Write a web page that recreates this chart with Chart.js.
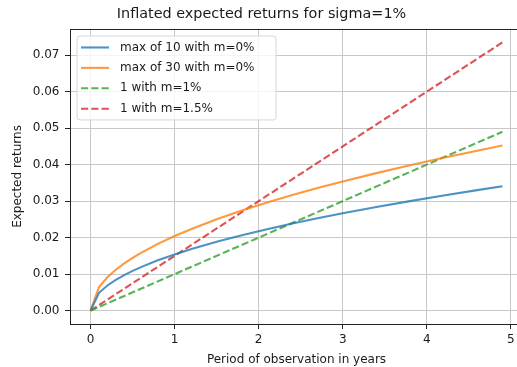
<!DOCTYPE html>
<html lang="en">
<head>
<meta charset="UTF-8">
<title>Inflated expected returns for sigma=1%</title>
<script src="https://cdn.jsdelivr.net/npm/chart.js"></script>
<style>
    html, body {
        margin: 0;
        padding: 0;
        overflow: hidden;
        background: #fff;
    }
</style>
</head>
<body>
<canvas id="chart" width="530" height="367"></canvas>
<script>
    // values
    const years = [0, 0.1, 0.2, 0.3, 0.4, 0.5, 0.6, 0.8, 1.0, 1.2, 1.5, 1.8, 2.1, 2.4, 2.7, 3.0, 3.4, 3.8, 4.2, 4.6, 4.9];
    const maxOf10 = [0, 0.00487, 0.00688, 0.00843, 0.00973, 0.01088, 0.01192, 0.01377, 0.01539, 0.01686, 0.01885,
        0.02065, 0.02230, 0.02384, 0.02529, 0.02666, 0.02838, 0.03000, 0.03154, 0.03301, 0.03407];
    const maxOf30 = [0, 0.00646, 0.00914, 0.01119, 0.01292, 0.01445, 0.01583, 0.01827, 0.02043, 0.02238, 0.02502,
        0.02741, 0.02961, 0.03165, 0.03357, 0.03539, 0.03767, 0.03983, 0.04187, 0.04382, 0.04522];
    const lineYears = [0, 4.9];
    const m1 = [0, 0.049];
    const m15 = [0, 0.0735];

    const seriesLabels = ['max of 10 with m=0%', 'max of 30 with m=0%', '1 with m=1%', '1 with m=1.5%'];
    const xTicks = [0, 1, 2, 3, 4, 5];
    const yTicks = [0, 0.01, 0.02, 0.03, 0.04, 0.05, 0.06, 0.07];

    const pts = (xs, ys) => xs.map((x, i) => ({x: x, y: ys[i]}));
    const FONT = 'DejaVu Sans';

    // matplotlib-like legend in the upper left corner
    const innerLegend = {
        id: 'innerLegend',
        afterDraw(chart) {
            const ctx = chart.ctx;
            const a = chart.chartArea;
            const x0 = a.left + 7, y0 = a.top + 7, w = 199, h = 84;
            ctx.save();
            ctx.beginPath();
            ctx.roundRect(x0, y0, w, h, 3);
            ctx.fillStyle = 'rgba(255,255,255,0.8)';
            ctx.fill();
            ctx.strokeStyle = '#d6d6d6';
            ctx.lineWidth = 1;
            ctx.stroke();
            ctx.font = '12px "' + FONT + '"';
            ctx.textBaseline = 'middle';
            chart.data.datasets.forEach((ds, i) => {
                const cy = y0 + 11.5 + i * 20.4;
                ctx.beginPath();
                ctx.setLineDash(ds.borderDash || []);
                ctx.strokeStyle = ds.borderColor;
                ctx.lineWidth = ds.borderWidth;
                ctx.moveTo(x0 + 4, cy);
                ctx.lineTo(x0 + 32, cy);
                ctx.stroke();
                ctx.setLineDash([]);
                ctx.fillStyle = '#1a1a1a';
                ctx.fillText(ds.label, x0 + 43, cy);
            });
            // frame
            ctx.strokeStyle = '#222';
            ctx.lineWidth = 1;
            ctx.strokeRect(Math.round(a.left) + 0.5, Math.round(a.top) + 0.5,
                Math.round(a.right - a.left), Math.round(a.bottom - a.top));
            ctx.restore();
        }
    };

    const dash = [7.2, 3.1];
    new Chart(document.getElementById('chart'), {
        type: 'line',
        data: {
            datasets: [
                {label: seriesLabels[0], data: pts(years, maxOf10), borderColor: 'rgba(31,119,180,0.8)', borderWidth: 2.1},
                {label: seriesLabels[1], data: pts(years, maxOf30), borderColor: 'rgba(255,127,14,0.8)', borderWidth: 2.1},
                {label: seriesLabels[2], data: pts(lineYears, m1), borderColor: 'rgba(44,160,44,0.8)', borderWidth: 2.1, borderDash: dash},
                {label: seriesLabels[3], data: pts(lineYears, m15), borderColor: 'rgba(214,39,40,0.8)', borderWidth: 2.1, borderDash: dash}
            ]
        },
        options: {
            responsive: false,
            animation: false,
            layout: {padding: {right: 7, left: 0, top: 0, bottom: 0}},
            elements: {point: {radius: 0}, line: {tension: 0, fill: false}},
            plugins: {
                legend: {display: false},
                tooltip: {enabled: false},
                title: {
                    display: true,
                    text: 'Inflated expected returns for sigma=1%',
                    color: '#1a1a1a',
                    font: {family: FONT, size: 14.4, weight: 'normal'},
                    padding: {top: 6, bottom: 5.7}
                }
            },
            scales: {
                x: {
                    type: 'linear',
                    min: -0.245,
                    max: 5.145,
                    afterFit: s => { s.height = 43; },
                    afterBuildTicks: s => { s.ticks = xTicks.map(v => ({value: v})); },
                    ticks: {
                        color: '#1a1a1a',
                        font: {family: FONT, size: 12},
                        padding: 4,
                        maxRotation: 0,
                        callback: v => String(v)
                    },
                    grid: {color: '#c8c8c8', lineWidth: 1, tickLength: 5, tickColor: '#222'},
                    border: {display: false},
                    title: {
                        display: true,
                        text: 'Period of observation in years',
                        color: '#1a1a1a',
                        font: {family: FONT, size: 12},
                        padding: {top: 0, bottom: 0}
                    }
                },
                y: {
                    type: 'linear',
                    min: -0.003675,
                    max: 0.077175,
                    afterFit: s => { s.width = 70; },
                    afterBuildTicks: s => { s.ticks = yTicks.map(v => ({value: v})); },
                    ticks: {
                        color: '#1a1a1a',
                        font: {family: FONT, size: 12},
                        padding: 5.5,
                        callback: v => v.toFixed(2)
                    },
                    grid: {color: '#c8c8c8', lineWidth: 1, tickLength: 5, tickColor: '#222'},
                    border: {display: false},
                    title: {
                        display: true,
                        text: 'Expected returns',
                        color: '#1a1a1a',
                        font: {family: FONT, size: 12},
                        padding: {top: 10.5, bottom: 0}
                    }
                }
            }
        },
        plugins: [innerLegend]
    });
</script>
</body>
</html>
